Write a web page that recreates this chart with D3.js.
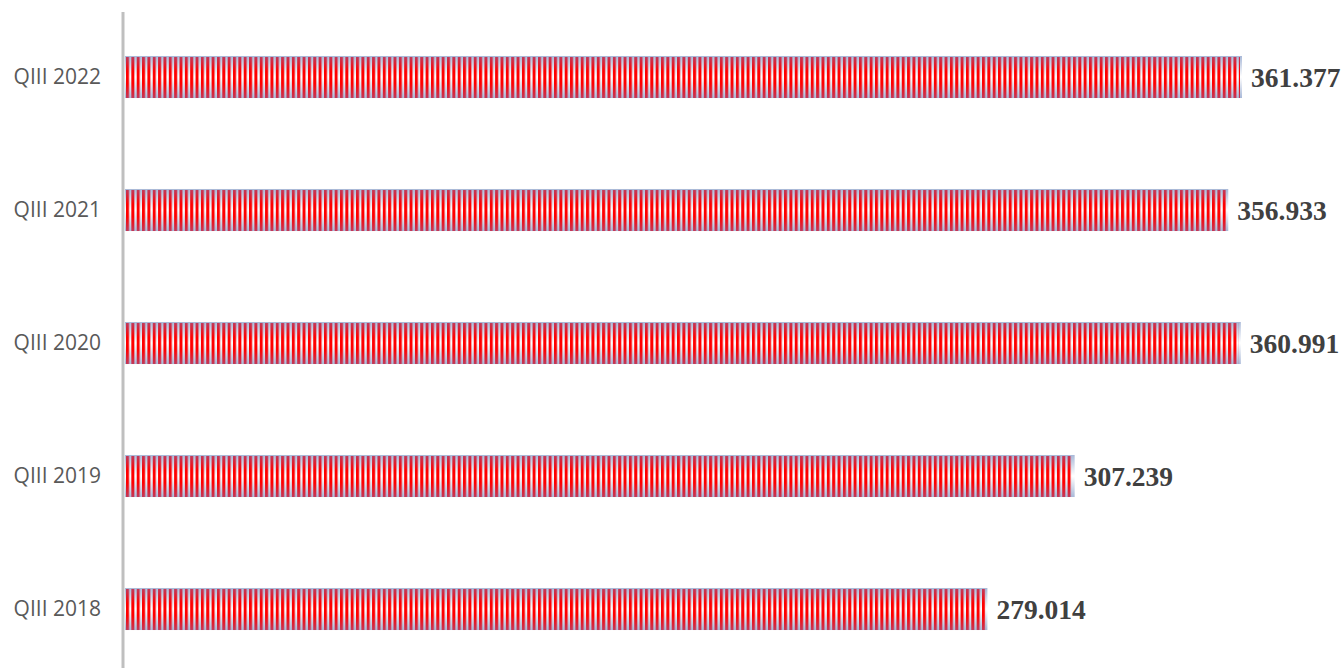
<!DOCTYPE html>
<html>
<head>
<meta charset="utf-8">
<script src="https://cdn.jsdelivr.net/npm/d3@7"></script>
<style>
  html, body { margin: 0; padding: 0; background: #fff; }
  svg { display: block; }
</style>
</head>
<body>
<div id="chart"></div>
<script>
// data, top to bottom as drawn
const categories = ["QIII 2022", "QIII 2021", "QIII 2020", "QIII 2019", "QIII 2018"];
const values = [361.377, 356.933, 360.991, 307.239, 279.014];
const valueLabels = ["361.377", "356.933", "360.991", "307.239", "279.014"];

const width = 1344, height = 668;
const margin = { top: 10.5, right: 0, bottom: 0, left: 125 };

const svg = d3.select("#chart").append("svg")
    .attr("width", width)
    .attr("height", height);

const defs = svg.append("defs");

// light blue -> white -> light blue background of the bar
const bgGrad = defs.append("linearGradient")
    .attr("id", "barBg").attr("x1", 0).attr("y1", 0).attr("x2", 0).attr("y2", 1);
bgGrad.append("stop").attr("offset", "0%").attr("stop-color", "#a9b9d8");
bgGrad.append("stop").attr("offset", "50%").attr("stop-color", "#ffffff");
bgGrad.append("stop").attr("offset", "100%").attr("stop-color", "#a9b9d8");

// stripes get darker toward top/bottom edges
const stripeGrad = defs.append("linearGradient")
    .attr("id", "stripeCol").attr("x1", 0).attr("y1", 0).attr("x2", 0).attr("y2", 1);
stripeGrad.append("stop").attr("offset", "0%").attr("stop-color", "#c2395a");
stripeGrad.append("stop").attr("offset", "35%").attr("stop-color", "#ff0000");
stripeGrad.append("stop").attr("offset", "65%").attr("stop-color", "#ff0000");
stripeGrad.append("stop").attr("offset", "100%").attr("stop-color", "#c2395a");

// white stripes in a mask -> only the stripe area shows the red rect
const pat = defs.append("pattern")
    .attr("id", "stripes")
    .attr("patternUnits", "userSpaceOnUse")
    .attr("x", margin.left + 1)
    .attr("width", 5.35)
    .attr("height", 2000);
pat.append("rect")
    .attr("width", 3)
    .attr("height", 2000)
    .attr("fill", "#ffffff");

const x = d3.scaleLinear()
    .domain([0, 361.377])
    .range([margin.left, 1242]);

const y = d3.scaleBand()
    .domain(categories)
    .range([margin.top, margin.top + 665])
    .paddingInner(0.684)
    .paddingOuter(0.342);

const bars = svg.append("g").selectAll("g")
    .data(categories)
    .join("g");

bars.append("rect")
    .attr("x", x(0))
    .attr("y", d => y(d))
    .attr("width", (d, i) => x(values[i]) - x(0))
    .attr("height", y.bandwidth())
    .attr("fill", "url(#barBg)");

const mask = defs.append("mask").attr("id", "stripeMask")
    .attr("maskUnits", "userSpaceOnUse")
    .attr("x", 0).attr("y", 0).attr("width", width).attr("height", height);
mask.append("rect")
    .attr("x", 0).attr("y", 0).attr("width", width).attr("height", height)
    .attr("fill", "url(#stripes)");

bars.append("rect")
    .attr("mask", "url(#stripeMask)")
    .attr("x", x(0))
    .attr("y", d => y(d) + 1)
    .attr("width", (d, i) => x(values[i]) - x(0) - 2)
    .attr("height", y.bandwidth() - 1)
    .attr("fill", "url(#stripeCol)");

// value labels
bars.append("text")
    .attr("x", (d, i) => x(values[i]) + 9)
    .attr("y", d => y(d) + y.bandwidth() / 2)
    .attr("dy", "0.35em")
    .attr("font-family", "'Liberation Serif', 'DejaVu Serif', serif")
    .attr("font-weight", "bold")
    .attr("font-size", "27.5px")
    .attr("fill", "#404040")
    .text((d, i) => valueLabels[i]);

// category axis
const axis = svg.append("g")
    .attr("transform", `translate(${margin.left - 2},0)`)
    .call(d3.axisLeft(y).tickSize(0).tickPadding(22));
axis.select(".domain").remove();
axis.selectAll("text")
    .attr("font-family", "'Open Sans', 'Noto Sans', sans-serif")
    .attr("font-size", "21px")
    .attr("fill", "#595959");

svg.append("line")
    .attr("x1", margin.left - 2).attr("x2", margin.left - 2)
    .attr("y1", 12).attr("y2", height)
    .attr("stroke", "#bfbfbf")
    .attr("stroke-width", 3);
</script>
</body>
</html>
